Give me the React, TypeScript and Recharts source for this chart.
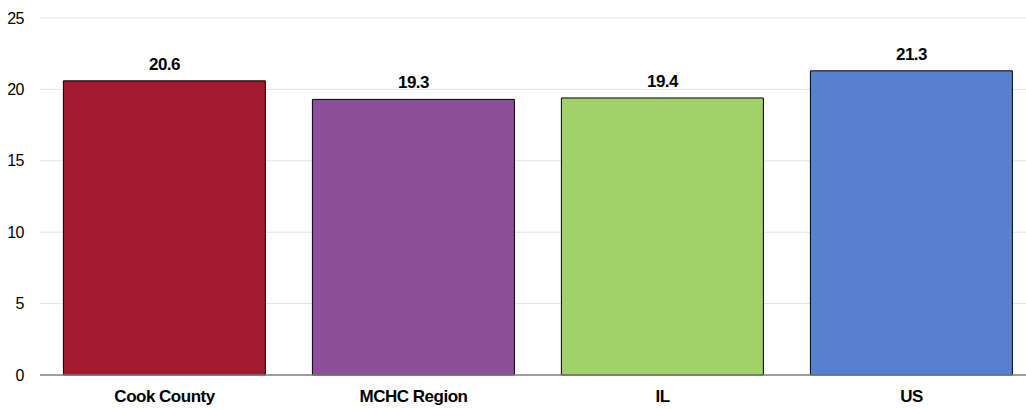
import React from "react";
import { BarChart, Bar, XAxis, YAxis, CartesianGrid, Cell, LabelList } from "recharts";

const categories = ["Cook County", "MCHC Region", "IL", "US"];
const values = [20.6, 19.3, 19.4, 21.3];
const colors = ["#A21A2F", "#8E4F9A", "#A2D06A", "#5880D0"];
const yTicks = [0, 5, 10, 15, 20, 25];

const data = categories.map((name, i) => ({ name, value: values[i] }));

const FONT = "'Liberation Sans Narrow', 'Arial Narrow', 'Liberation Sans', Arial, sans-serif";

export default function App() {
  return (
    <div style={{ position: "absolute", left: 0, top: 0, width: 1026, height: 409, overflow: "hidden", background: "#fff" }}>
      <BarChart
        width={1036}
        height={409}
        data={data}
        margin={{ top: 18, right: 0, left: 0, bottom: 0 }}
        barCategoryGap="9.4%"
      >
        <CartesianGrid vertical={false} stroke="#e3e3e3" />
        <XAxis
          dataKey="name"
          height={34}
          tickLine={false}
          axisLine={{ stroke: "#808080", strokeWidth: 1.5 }}
          tick={{ fill: "#000", fontSize: 17, fontWeight: 700, fontFamily: FONT, letterSpacing: -0.5 }}
          tickMargin={9}
        />
        <YAxis
          width={40}
          domain={[0, 25]}
          ticks={yTicks}
          axisLine={false}
          tickLine={false}
          tickMargin={10}
          tick={{ fill: "#000", fontSize: 16, fontFamily: FONT, letterSpacing: -0.5 }}
        />
        <Bar dataKey="value" isAnimationActive={false} stroke="#000" strokeWidth={1}>
          {data.map((d, i) => (
            <Cell key={d.name} fill={colors[i]} />
          ))}
          <LabelList
            dataKey="value"
            position="top"
            offset={11}
            style={{ fill: "#000", fontSize: 17, fontWeight: 700, fontFamily: FONT, letterSpacing: -0.6 }}
          />
        </Bar>
      </BarChart>
    </div>
  );
}
